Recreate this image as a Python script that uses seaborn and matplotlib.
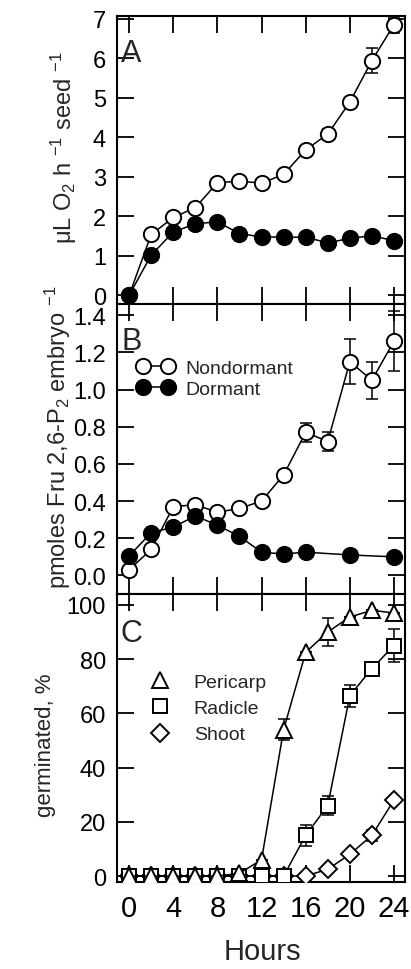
import numpy as np
import pandas as pd
import matplotlib
matplotlib.use("Agg")
import matplotlib.pyplot as plt
from matplotlib.lines import Line2D
import seaborn as sns

sns.set_style("ticks")
plt.rcParams['font.family'] = ['Liberation Sans', 'DejaVu Sans']
plt.rcParams['mathtext.fontset'] = 'custom'
plt.rcParams['mathtext.rm'] = 'Liberation Sans'
plt.rcParams['mathtext.it'] = 'Liberation Sans'

# ---------------- data ----------------
hours = [0, 2, 4, 6, 8, 10, 12, 14, 16, 18, 20, 22, 24]

# Panel A: O2 uptake
o2_nondormant = [0.0, 1.54, 1.97, 2.22, 2.85, 2.89, 2.84, 3.06, 3.68, 4.08, 4.89, 5.94, 6.85]
o2_nondormant_err = [0, 0, 0, 0, 0, 0, 0, 0, 0, 0.12, 0.1, 0.32, 0.2]
o2_dormant = [0.0, 1.02, 1.6, 1.81, 1.86, 1.56, 1.48, 1.47, 1.47, 1.33, 1.44, 1.51, 1.38]

# Panel B: Fru 2,6-P2
fru_hours_nd = [0, 2, 4, 6, 8, 10, 12, 14, 16, 18, 20, 22, 24]
fru_nondormant = [0.03, 0.14, 0.37, 0.38, 0.34, 0.36, 0.40, 0.54, 0.77, 0.72, 1.15, 1.05, 1.26]
fru_nondormant_err = [0, 0, 0, 0, 0, 0, 0, 0, 0.05, 0.05, 0.12, 0.1, 0.16]
fru_hours_d = [0, 2, 4, 6, 8, 10, 12, 14, 16, 20, 24]
fru_dormant = [0.105, 0.23, 0.26, 0.32, 0.27, 0.21, 0.125, 0.115, 0.125, 0.11, 0.10]

# Panel C: germination
pericarp = [0, 0, 0, 0, 0, 1, 6, 54, 82.5, 90, 95.5, 98, 97]
pericarp_err = [0, 0, 0, 0, 0, 0, 0, 4, 0, 5, 0, 0, 0]
radicle = [0, 0, 0, 0, 0, 0, 0, 0, 15, 26, 66.5, 76.5, 85]
radicle_err = [0, 0, 0, 0, 0, 0, 0, 0, 4, 3.5, 4, 0, 6]
shoot = [0, 0, 0, 0, 0, 0, 0, 0, 0, 2.5, 8, 15, 28]
shoot_err = [0, 0, 0, 0, 0, 0, 0, 0, 0, 0, 0, 2, 0]

xticks = [0, 4, 8, 12, 16, 20, 24]

# ---------------- figure ----------------
W, H = 411, 970
fig = plt.figure(figsize=(W / 100, H / 100), dpi=100)
L, R = 117 / W, 405 / W
def fy(y):
    return 1 - y / H
def fx(x):
    return x / W
axA = fig.add_axes([L, fy(305), R - L, fy(17) - fy(305)])
axB = fig.add_axes([L, fy(595), R - L, fy(305) - fy(595)])
axC = fig.add_axes([L, fy(883), R - L, fy(595) - fy(883)])

ms = 11
mew = 1.4
lw = 1.1

def style(ax, ylim, yticks, yticklabels):
    ax.set_xlim(-1.1, 25.0)
    ax.set_ylim(*ylim)
    ax.set_xticks(xticks)
    ax.set_yticks(yticks)
    ax.set_yticklabels(yticklabels)
    ax.tick_params(direction='in', length=12, width=1.3, top=True, right=True,
                   labelsize=17, pad=8, colors='black')
    for s in ax.spines.values():
        s.set_visible(True)
        s.set_linewidth(1.5)
        s.set_color('black')
    ax.set_xlabel('')
    ax.set_ylabel('')

def series(ax, x, y, marker, face, err=None, label=None, ms_=ms):
    df = pd.DataFrame({'x': x, 'y': y})
    sns.lineplot(data=df, x='x', y='y', ax=ax, color='black', lw=lw, marker=marker,
                 markersize=ms_, markerfacecolor=face, markeredgecolor='black',
                 markeredgewidth=mew, label=label, legend=False, zorder=3)
    if err is not None:
        ax.errorbar(x, y, yerr=err, fmt='none', ecolor='black', elinewidth=1.1,
                    capsize=4, capthick=1.1, zorder=2)

# Panel A
series(axA, hours, o2_nondormant, 'o', 'white', o2_nondormant_err)
series(axA, hours, o2_dormant, 'o', 'black')
style(axA, (-0.22, 7.07), range(0, 8), [str(v) for v in range(0, 8)])
axA.tick_params(labelbottom=False)

# Panel B
series(axB, fru_hours_nd, fru_nondormant, 'o', 'white', fru_nondormant_err, label='Nondormant')
series(axB, fru_hours_d, fru_dormant, 'o', 'black', label='Dormant')
style(axB, (-0.1, 1.46), np.arange(0, 1.41, 0.2),
      ['0.0', '0.2', '0.4', '0.6', '0.8', '1.0', '1.2', '1.4'])
axB.tick_params(labelbottom=False)
hB = [Line2D([], [], color='black', lw=lw, marker='o', ms=ms, mfc='white', mec='black', mew=mew),
      Line2D([], [], color='black', lw=lw, marker='o', ms=ms, mfc='black', mec='black', mew=mew)]
axB.legend(hB, ['Nondormant', 'Dormant'], loc='upper left',
           bbox_to_anchor=(fx(137), fy(360)), bbox_transform=fig.transFigure,
           frameon=False, fontsize=14, numpoints=2, handlelength=1.9,
           handletextpad=0.6, labelspacing=0.2, borderpad=0, borderaxespad=0)

# Panel C
series(axC, hours, shoot, 'D', 'white', shoot_err, ms_=9)
series(axC, hours, radicle, 's', 'white', radicle_err, ms_=10)
series(axC, hours, pericarp, '^', 'white', pericarp_err, ms_=12)
style(axC, (-2.2, 104), range(0, 101, 20), [str(v) for v in range(0, 101, 20)])
axC.tick_params(axis='x', labelsize=21, pad=9)
hC = [Line2D([], [], ls='none', marker='^', ms=12, mfc='white', mec='black', mew=mew),
      Line2D([], [], ls='none', marker='s', ms=10, mfc='white', mec='black', mew=mew),
      Line2D([], [], ls='none', marker='D', ms=9, mfc='white', mec='black', mew=mew)]
axC.legend(hC, ['Pericarp', 'Radicle', 'Shoot'], loc='upper left',
           bbox_to_anchor=(fx(150), fy(674)), bbox_transform=fig.transFigure,
           frameon=False, fontsize=14, handlelength=1.0, handletextpad=1.25,
           labelspacing=0.45, borderpad=0, borderaxespad=0)

# panel letters
for letter, base in (('A', 62), ('B', 350), ('C', 642)):
    fig.text(fx(121), fy(base), letter, fontsize=22, ha='left', va='baseline')

# axis labels
fig.text(fx(64), fy(148), r'$\mu$L O$_2$ h $^{-1}$ seed $^{-1}$', rotation=90,
         ha='center', va='center', fontsize=17)
fig.text(fx(58), fy(437), r'pmoles Fru 2,6-P$_2$ embryo $^{-1}$', rotation=90,
         ha='center', va='center', fontsize=17)
fig.text(fx(46), fy(745), 'germinated, %', rotation=90,
         ha='center', va='center', fontsize=16)
fig.text(fx(262), fy(952), 'Hours', ha='center', va='center', fontsize=21)

fig.savefig('out.png', dpi=100)
